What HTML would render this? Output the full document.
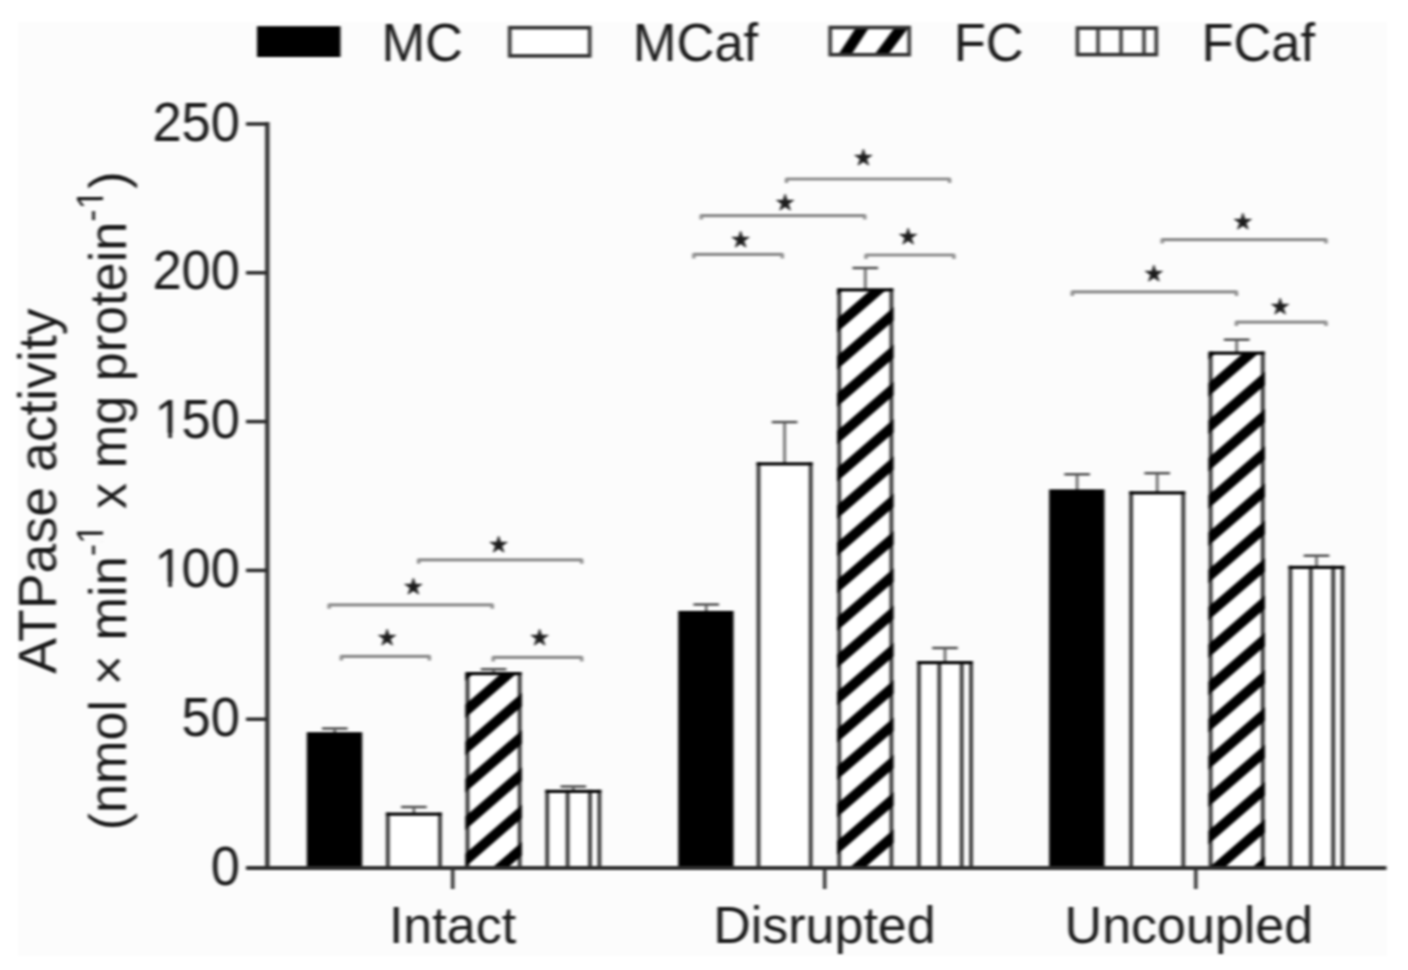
<!DOCTYPE html>
<html><head><meta charset="utf-8"><title>ATPase activity</title>
<style>html,body{margin:0;padding:0;background:#fff;}svg{display:block;}</style>
</head><body>
<svg width="1408" height="970" viewBox="0 0 1408 970" font-family='"Liberation Sans", Arial, Helvetica, sans-serif' fill="#1a1a1a"><defs><filter id="bl" x="0" y="0" width="1" height="1" color-interpolation-filters="sRGB"><feGaussianBlur stdDeviation="1.5 0.9"/></filter><clipPath id="c0"><rect x="465.3" y="673.7" width="56.6" height="194.3"/></clipPath><clipPath id="c1"><rect x="837.0" y="289.8" width="56.6" height="578.2"/></clipPath><clipPath id="c2"><rect x="1208.4" y="353.1" width="56.6" height="514.9"/></clipPath><clipPath id="lfc"><rect x="830.2" y="27.5" width="79" height="27.2"/></clipPath></defs><g filter="url(#bl)"><rect x="0" y="0" width="1408" height="970" fill="#ffffff"/>
<rect x="18" y="22" width="1369" height="934" fill="#fcfcfc"/>
<line x1="334.8" y1="728.5" x2="334.8" y2="733.2" stroke="#555555" stroke-width="2.4"/>
<line x1="322.0" y1="728.5" x2="347.6" y2="728.5" stroke="#555555" stroke-width="2.6"/>
<rect x="306.8" y="732.2" width="55.4" height="135.8" fill="#000"/>
<line x1="413.9" y1="807.0" x2="413.9" y2="815.2" stroke="#555555" stroke-width="2.4"/>
<line x1="401.1" y1="807.0" x2="426.7" y2="807.0" stroke="#555555" stroke-width="2.6"/>
<rect x="387.8" y="814.2" width="52.2" height="53.8" fill="#fff"/>
<line x1="387.8" y1="812.6" x2="387.8" y2="868.0" stroke="#383838" stroke-width="3.8"/><line x1="440.0" y1="812.6" x2="440.0" y2="868.0" stroke="#383838" stroke-width="3.8"/><line x1="385.9" y1="814.2" x2="441.9" y2="814.2" stroke="#080808" stroke-width="3.2"/>
<line x1="493.6" y1="669.2" x2="493.6" y2="674.7" stroke="#555555" stroke-width="2.4"/>
<line x1="480.8" y1="669.2" x2="506.4" y2="669.2" stroke="#555555" stroke-width="2.6"/>
<rect x="467.5" y="673.7" width="52.2" height="194.3" fill="#fff"/>
<line x1="467.5" y1="672.1" x2="467.5" y2="868.0" stroke="#383838" stroke-width="3.8"/><line x1="519.7" y1="672.1" x2="519.7" y2="868.0" stroke="#383838" stroke-width="3.8"/><line x1="465.6" y1="673.7" x2="521.6" y2="673.7" stroke="#080808" stroke-width="3.2"/>
<path clip-path="url(#c0)" d="M457.5,643.4L529.7,580.8M457.5,680.7L529.7,618.1M457.5,718.0L529.7,655.4M457.5,755.3L529.7,692.7M457.5,792.6L529.7,730.0M457.5,829.9L529.7,767.3M457.5,867.2L529.7,804.6M457.5,904.5L529.7,841.9M457.5,941.8L529.7,879.2" stroke="#000" stroke-width="10.2" fill="none"/>
<line x1="573.3" y1="786.5" x2="573.3" y2="792.4" stroke="#555555" stroke-width="2.4"/>
<line x1="560.5" y1="786.5" x2="586.1" y2="786.5" stroke="#555555" stroke-width="2.6"/>
<rect x="547.2" y="791.4" width="52.2" height="76.6" fill="#fff"/>
<line x1="547.2" y1="789.8" x2="547.2" y2="868.0" stroke="#383838" stroke-width="3.8"/><line x1="567.6" y1="789.8" x2="567.6" y2="868.0" stroke="#383838" stroke-width="3.8"/><line x1="590.0" y1="789.8" x2="590.0" y2="868.0" stroke="#383838" stroke-width="3.8"/><line x1="599.4" y1="789.8" x2="599.4" y2="868.0" stroke="#383838" stroke-width="3.8"/><line x1="545.3" y1="791.4" x2="601.3" y2="791.4" stroke="#080808" stroke-width="3.2"/>
<line x1="706.2" y1="604.5" x2="706.2" y2="611.9" stroke="#555555" stroke-width="2.4"/>
<line x1="693.4" y1="604.5" x2="719.0" y2="604.5" stroke="#555555" stroke-width="2.6"/>
<rect x="678.2" y="610.9" width="55.4" height="257.1" fill="#000"/>
<line x1="784.6" y1="422.1" x2="784.6" y2="464.8" stroke="#555555" stroke-width="2.4"/>
<line x1="771.8" y1="422.1" x2="797.4" y2="422.1" stroke="#555555" stroke-width="2.6"/>
<rect x="758.5" y="463.8" width="52.2" height="404.2" fill="#fff"/>
<line x1="758.5" y1="462.2" x2="758.5" y2="868.0" stroke="#383838" stroke-width="3.8"/><line x1="810.7" y1="462.2" x2="810.7" y2="868.0" stroke="#383838" stroke-width="3.8"/><line x1="756.6" y1="463.8" x2="812.6" y2="463.8" stroke="#080808" stroke-width="3.2"/>
<line x1="865.3" y1="268.0" x2="865.3" y2="290.8" stroke="#555555" stroke-width="2.4"/>
<line x1="852.5" y1="268.0" x2="878.1" y2="268.0" stroke="#555555" stroke-width="2.6"/>
<rect x="839.2" y="289.8" width="52.2" height="578.2" fill="#fff"/>
<line x1="839.2" y1="288.2" x2="839.2" y2="868.0" stroke="#383838" stroke-width="3.8"/><line x1="891.4" y1="288.2" x2="891.4" y2="868.0" stroke="#383838" stroke-width="3.8"/><line x1="837.3" y1="289.8" x2="893.3" y2="289.8" stroke="#080808" stroke-width="3.2"/>
<path clip-path="url(#c1)" d="M829.2,257.9L901.4,195.3M829.2,295.2L901.4,232.6M829.2,332.5L901.4,269.9M829.2,369.8L901.4,307.2M829.2,407.1L901.4,344.5M829.2,444.4L901.4,381.8M829.2,481.7L901.4,419.1M829.2,519.0L901.4,456.4M829.2,556.3L901.4,493.7M829.2,593.6L901.4,531.0M829.2,630.9L901.4,568.3M829.2,668.2L901.4,605.6M829.2,705.5L901.4,642.9M829.2,742.8L901.4,680.2M829.2,780.1L901.4,717.5M829.2,817.4L901.4,754.8M829.2,854.7L901.4,792.1M829.2,892.0L901.4,829.4M829.2,929.3L901.4,866.7" stroke="#000" stroke-width="10.2" fill="none"/>
<line x1="945.0" y1="648.0" x2="945.0" y2="663.6" stroke="#555555" stroke-width="2.4"/>
<line x1="932.2" y1="648.0" x2="957.8" y2="648.0" stroke="#555555" stroke-width="2.6"/>
<rect x="918.9" y="662.6" width="52.2" height="205.4" fill="#fff"/>
<line x1="918.9" y1="661.0" x2="918.9" y2="868.0" stroke="#383838" stroke-width="3.8"/><line x1="939.3" y1="661.0" x2="939.3" y2="868.0" stroke="#383838" stroke-width="3.8"/><line x1="961.7" y1="661.0" x2="961.7" y2="868.0" stroke="#383838" stroke-width="3.8"/><line x1="971.1" y1="661.0" x2="971.1" y2="868.0" stroke="#383838" stroke-width="3.8"/><line x1="917.0" y1="662.6" x2="973.0" y2="662.6" stroke="#080808" stroke-width="3.2"/>
<line x1="1077.1" y1="474.3" x2="1077.1" y2="490.4" stroke="#555555" stroke-width="2.4"/>
<line x1="1064.3" y1="474.3" x2="1089.9" y2="474.3" stroke="#555555" stroke-width="2.6"/>
<rect x="1049.1" y="489.4" width="55.4" height="378.6" fill="#000"/>
<line x1="1157.2" y1="473.2" x2="1157.2" y2="493.8" stroke="#555555" stroke-width="2.4"/>
<line x1="1144.4" y1="473.2" x2="1170.0" y2="473.2" stroke="#555555" stroke-width="2.6"/>
<rect x="1131.1" y="492.8" width="52.2" height="375.2" fill="#fff"/>
<line x1="1131.1" y1="491.2" x2="1131.1" y2="868.0" stroke="#383838" stroke-width="3.8"/><line x1="1183.3" y1="491.2" x2="1183.3" y2="868.0" stroke="#383838" stroke-width="3.8"/><line x1="1129.2" y1="492.8" x2="1185.2" y2="492.8" stroke="#080808" stroke-width="3.2"/>
<line x1="1236.7" y1="339.7" x2="1236.7" y2="354.1" stroke="#555555" stroke-width="2.4"/>
<line x1="1223.9" y1="339.7" x2="1249.5" y2="339.7" stroke="#555555" stroke-width="2.6"/>
<rect x="1210.6" y="353.1" width="52.2" height="514.9" fill="#fff"/>
<line x1="1210.6" y1="351.5" x2="1210.6" y2="868.0" stroke="#383838" stroke-width="3.8"/><line x1="1262.8" y1="351.5" x2="1262.8" y2="868.0" stroke="#383838" stroke-width="3.8"/><line x1="1208.7" y1="353.1" x2="1264.7" y2="353.1" stroke="#080808" stroke-width="3.2"/>
<path clip-path="url(#c2)" d="M1200.6,322.1L1272.8,259.5M1200.6,359.4L1272.8,296.8M1200.6,396.7L1272.8,334.1M1200.6,434.0L1272.8,371.4M1200.6,471.3L1272.8,408.7M1200.6,508.6L1272.8,446.0M1200.6,545.9L1272.8,483.3M1200.6,583.2L1272.8,520.6M1200.6,620.5L1272.8,557.9M1200.6,657.8L1272.8,595.2M1200.6,695.1L1272.8,632.5M1200.6,732.4L1272.8,669.8M1200.6,769.7L1272.8,707.1M1200.6,807.0L1272.8,744.4M1200.6,844.3L1272.8,781.7M1200.6,881.6L1272.8,819.0M1200.6,918.9L1272.8,856.3" stroke="#000" stroke-width="10.2" fill="none"/>
<line x1="1316.5" y1="555.7" x2="1316.5" y2="568.4" stroke="#555555" stroke-width="2.4"/>
<line x1="1303.7" y1="555.7" x2="1329.3" y2="555.7" stroke="#555555" stroke-width="2.6"/>
<rect x="1290.4" y="567.4" width="52.2" height="300.6" fill="#fff"/>
<line x1="1290.4" y1="565.8" x2="1290.4" y2="868.0" stroke="#383838" stroke-width="3.8"/><line x1="1310.8" y1="565.8" x2="1310.8" y2="868.0" stroke="#383838" stroke-width="3.8"/><line x1="1333.2" y1="565.8" x2="1333.2" y2="868.0" stroke="#383838" stroke-width="3.8"/><line x1="1342.6" y1="565.8" x2="1342.6" y2="868.0" stroke="#383838" stroke-width="3.8"/><line x1="1288.5" y1="567.4" x2="1344.5" y2="567.4" stroke="#080808" stroke-width="3.2"/>
<line x1="267.3" y1="121.9" x2="267.3" y2="870.1" stroke="#2e2e2e" stroke-width="4.3"/>
<line x1="246" y1="868.0" x2="1386.5" y2="868.0" stroke="#2e2e2e" stroke-width="4.2"/>
<line x1="246" y1="868.0" x2="268" y2="868.0" stroke="#2e2e2e" stroke-width="3.6"/>
<line x1="246" y1="719.2" x2="268" y2="719.2" stroke="#2e2e2e" stroke-width="3.6"/>
<line x1="246" y1="570.4" x2="268" y2="570.4" stroke="#2e2e2e" stroke-width="3.6"/>
<line x1="246" y1="421.6" x2="268" y2="421.6" stroke="#2e2e2e" stroke-width="3.6"/>
<line x1="246" y1="272.8" x2="268" y2="272.8" stroke="#2e2e2e" stroke-width="3.6"/>
<line x1="246" y1="124.0" x2="268" y2="124.0" stroke="#2e2e2e" stroke-width="3.6"/>
<line x1="452.7" y1="868.0" x2="452.7" y2="889" stroke="#2e2e2e" stroke-width="3.4"/>
<line x1="824.7" y1="868.0" x2="824.7" y2="889" stroke="#2e2e2e" stroke-width="3.4"/>
<line x1="1195.8" y1="868.0" x2="1195.8" y2="889" stroke="#2e2e2e" stroke-width="3.4"/>
<text transform="translate(240.0,884.6) scale(1,1.04)" text-anchor="end" font-size="52.5">0</text>
<text transform="translate(240.0,735.8) scale(1,1.04)" text-anchor="end" font-size="52.5">50</text>
<text transform="translate(152.43,587.0) scale(1,1.04)" font-size="52.5"><tspan dx="2.2">1</tspan><tspan dx="-2.2">00</tspan></text>
<rect x="158.0" y="581.6" width="10.4" height="6.1" fill="#fcfcfc"/>
<rect x="171.9" y="581.6" width="10.0" height="6.1" fill="#fcfcfc"/>
<text transform="translate(152.43,438.2) scale(1,1.04)" font-size="52.5"><tspan dx="2.2">1</tspan><tspan dx="-2.2">50</tspan></text>
<rect x="158.0" y="432.8" width="10.4" height="6.1" fill="#fcfcfc"/>
<rect x="171.9" y="432.8" width="10.0" height="6.1" fill="#fcfcfc"/>
<text transform="translate(240.0,289.4) scale(1,1.04)" text-anchor="end" font-size="52.5">200</text>
<text transform="translate(240.0,140.6) scale(1,1.04)" text-anchor="end" font-size="52.5">250</text>
<text transform="translate(452.5,943.4) scale(1,1.01)" text-anchor="middle" font-size="52">Intact</text>
<text transform="translate(824.4,943.4) scale(1,1.01)" text-anchor="middle" font-size="52">Disrupted</text>
<text transform="translate(1188.9,943.4) scale(1,1.01)" text-anchor="middle" font-size="52">Uncoupled</text>
<path d="M418.6,563.8L418.6,559.8L581.7,559.8L581.7,563.8" fill="none" stroke="#8c8c8c" stroke-width="3.2" stroke-linejoin="round"/>
<text x="498.6" y="552.2" text-anchor="middle" font-size="22" font-family="DejaVu Sans, sans-serif" fill="#1c1c1c" stroke="#1c1c1c" stroke-width="0.8" stroke-linejoin="round">★</text>
<path d="M329.1,608.8L329.1,604.8L492.3,604.8L492.3,608.8" fill="none" stroke="#8c8c8c" stroke-width="3.2" stroke-linejoin="round"/>
<text x="413.3" y="593.7" text-anchor="middle" font-size="22" font-family="DejaVu Sans, sans-serif" fill="#1c1c1c" stroke="#1c1c1c" stroke-width="0.8" stroke-linejoin="round">★</text>
<path d="M341.3,660.4L341.3,656.4L429.4,656.4L429.4,660.4" fill="none" stroke="#8c8c8c" stroke-width="3.2" stroke-linejoin="round"/>
<text x="387.1" y="644.9" text-anchor="middle" font-size="22" font-family="DejaVu Sans, sans-serif" fill="#1c1c1c" stroke="#1c1c1c" stroke-width="0.8" stroke-linejoin="round">★</text>
<path d="M493.2,661.4L493.2,657.4L581.7,657.4L581.7,661.4" fill="none" stroke="#8c8c8c" stroke-width="3.2" stroke-linejoin="round"/>
<text x="539.5" y="645.3" text-anchor="middle" font-size="22" font-family="DejaVu Sans, sans-serif" fill="#1c1c1c" stroke="#1c1c1c" stroke-width="0.8" stroke-linejoin="round">★</text>
<path d="M786.5,183.0L786.5,179.0L949.6,179.0L949.6,183.0" fill="none" stroke="#8c8c8c" stroke-width="3.2" stroke-linejoin="round"/>
<text x="863.3" y="164.6" text-anchor="middle" font-size="22" font-family="DejaVu Sans, sans-serif" fill="#1c1c1c" stroke="#1c1c1c" stroke-width="0.8" stroke-linejoin="round">★</text>
<path d="M701.2,219.6L701.2,215.6L864.8,215.6L864.8,219.6" fill="none" stroke="#8c8c8c" stroke-width="3.2" stroke-linejoin="round"/>
<text x="785.0" y="209.5" text-anchor="middle" font-size="22" font-family="DejaVu Sans, sans-serif" fill="#1c1c1c" stroke="#1c1c1c" stroke-width="0.8" stroke-linejoin="round">★</text>
<path d="M693.8,258.4L693.8,254.4L782.3,254.4L782.3,258.4" fill="none" stroke="#8c8c8c" stroke-width="3.2" stroke-linejoin="round"/>
<text x="740.7" y="246.7" text-anchor="middle" font-size="22" font-family="DejaVu Sans, sans-serif" fill="#1c1c1c" stroke="#1c1c1c" stroke-width="0.8" stroke-linejoin="round">★</text>
<path d="M866.0,259.0L866.0,255.0L953.9,255.0L953.9,259.0" fill="none" stroke="#8c8c8c" stroke-width="3.2" stroke-linejoin="round"/>
<text x="908.0" y="243.6" text-anchor="middle" font-size="22" font-family="DejaVu Sans, sans-serif" fill="#1c1c1c" stroke="#1c1c1c" stroke-width="0.8" stroke-linejoin="round">★</text>
<path d="M1162.2,243.6L1162.2,239.6L1326.0,239.6L1326.0,243.6" fill="none" stroke="#8c8c8c" stroke-width="3.2" stroke-linejoin="round"/>
<text x="1242.8" y="228.6" text-anchor="middle" font-size="22" font-family="DejaVu Sans, sans-serif" fill="#1c1c1c" stroke="#1c1c1c" stroke-width="0.8" stroke-linejoin="round">★</text>
<path d="M1072.3,295.9L1072.3,291.9L1236.5,291.9L1236.5,295.9" fill="none" stroke="#8c8c8c" stroke-width="3.2" stroke-linejoin="round"/>
<text x="1153.8" y="280.8" text-anchor="middle" font-size="22" font-family="DejaVu Sans, sans-serif" fill="#1c1c1c" stroke="#1c1c1c" stroke-width="0.8" stroke-linejoin="round">★</text>
<path d="M1236.4,326.1L1236.4,322.1L1326.0,322.1L1326.0,326.1" fill="none" stroke="#8c8c8c" stroke-width="3.2" stroke-linejoin="round"/>
<text x="1280.1" y="313.8" text-anchor="middle" font-size="22" font-family="DejaVu Sans, sans-serif" fill="#1c1c1c" stroke="#1c1c1c" stroke-width="0.8" stroke-linejoin="round">★</text>
<rect x="258.5" y="27.7" width="80.5" height="27.8" fill="#000" stroke="#000" stroke-width="3"/>
<rect x="509.7" y="27.7" width="80" height="28.2" fill="#fff" stroke="#333" stroke-width="3.6"/>
<rect x="830.2" y="27.5" width="79" height="27.2" fill="#fff"/>
<path clip-path="url(#lfc)" d="M840.0,62L867.5,20M875.8,62L907.2,20" stroke="#000" stroke-width="11" fill="none"/>
<rect x="830.2" y="27.5" width="79" height="27.2" fill="none" stroke="#333" stroke-width="3.6"/>
<rect x="1077.5" y="28.1" width="78.8" height="26.5" fill="#fff" stroke="#333" stroke-width="3.6"/>
<line x1="1098" y1="28.1" x2="1098" y2="54.6" stroke="#333" stroke-width="3.4"/>
<line x1="1121" y1="28.1" x2="1121" y2="54.6" stroke="#333" stroke-width="3.4"/>
<line x1="1144" y1="28.1" x2="1144" y2="54.6" stroke="#333" stroke-width="3.4"/>
<text transform="translate(381.4,60.5) scale(1,1.03)" font-size="52.5">MC</text>
<text transform="translate(632.8,60.5) scale(1,1.03)" font-size="52.5">MCaf</text>
<text transform="translate(953.7,60.5) scale(1,1.03)" font-size="52.5">FC</text>
<text transform="translate(1201.4,60.5) scale(1,1.03)" font-size="52.5">FCaf</text>
<text transform="translate(56.2,491.0) rotate(-90)" text-anchor="middle" font-size="53.6">ATPase activity</text>
<text transform="translate(125.8,500.9) rotate(-90)" text-anchor="middle" font-size="52.2">(nmol × min<tspan font-size="37" dy="-22.5">-1</tspan><tspan dy="22.5"> x mg protein</tspan><tspan font-size="37" dy="-22.5">-1</tspan><tspan dy="22.5">)</tspan></text>
<g transform="translate(125.8,500.9) rotate(-90)"><rect x="-40.87" y="-26.46" width="7.09" height="4.66" fill="#fcfcfc"/><rect x="-30.52" y="-26.46" width="6.80" height="4.66" fill="#fcfcfc"/><rect x="293.70" y="-26.46" width="7.09" height="4.66" fill="#fcfcfc"/><rect x="304.05" y="-26.46" width="6.80" height="4.66" fill="#fcfcfc"/></g></g></svg>
</body></html>
